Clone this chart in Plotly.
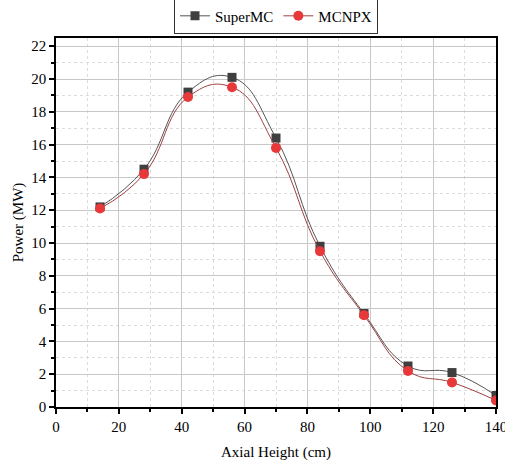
import plotly.graph_objects as go

axial_height = [14, 28, 42, 56, 70, 84, 98, 112, 126, 140]
supermc = [12.2, 14.5, 19.2, 20.1, 16.4, 9.8, 5.7, 2.5, 2.1, 0.7]
mcnpx = [12.1, 14.2, 18.9, 19.5, 15.8, 9.5, 5.6, 2.2, 1.5, 0.4]

font = "Liberation Serif"

fig = go.Figure()
fig.add_trace(go.Scatter(
    x=axial_height, y=supermc, name="SuperMC", mode="lines+markers",
    line=dict(color="#555555", width=1, shape="spline", smoothing=1.3),
    marker=dict(symbol="square", size=9, color="#3f3f3f"),
))
fig.add_trace(go.Scatter(
    x=axial_height, y=mcnpx, name="MCNPX", mode="lines+markers",
    line=dict(color="#a04040", width=1, shape="spline", smoothing=1.3),
    marker=dict(symbol="circle", size=10, color="#e8383a"),
))

axis_common = dict(
    showline=True, linecolor="black", linewidth=1.5, mirror=True,
    ticks="outside", ticklen=5, tickwidth=1.5, tickcolor="black",
    showgrid=True, gridcolor="#c8c8c8", gridwidth=1,
    zeroline=False, automargin=False, ticklabeloverflow="allow",
    tickfont=dict(family=font, size=15, color="black"),
)

fig.update_xaxes(
    range=[0, 140], dtick=20, tick0=0,
    title=dict(text="Axial Height (cm)", font=dict(family=font, size=15, color="black"), standoff=13),
    minor=dict(dtick=10, showgrid=True, gridcolor="#dcdcdc", griddash="dot", ticks="outside", ticklen=3, tickcolor="black"),
    **axis_common,
)
fig.update_yaxes(
    range=[0, 22.5], dtick=2, tick0=0,
    title=dict(text="Power (MW)", font=dict(family=font, size=15, color="black"), standoff=4),
    minor=dict(dtick=1, showgrid=True, gridcolor="#dcdcdc", griddash="dot", ticks="outside", ticklen=3, tickcolor="black"),
    **axis_common,
)

fig.update_layout(
    width=505, height=462,
    margin=dict(l=56, r=9, t=38, b=55, autoexpand=False),
    paper_bgcolor="white", plot_bgcolor="white",
    showlegend=True,
    legend=dict(
        orientation="h", x=0.5, xanchor="center", y=1.012, yanchor="bottom",
        bordercolor="#333333", borderwidth=1, bgcolor="white",
        font=dict(family=font, size=15, color="black"),
        itemwidth=30, tracegroupgap=0,
    ),
)

fig.write_html(
    "out.html",
    config={"displayModeBar": False},
    post_script="document.body.style.margin='0';document.body.style.overflow='hidden';",
)
